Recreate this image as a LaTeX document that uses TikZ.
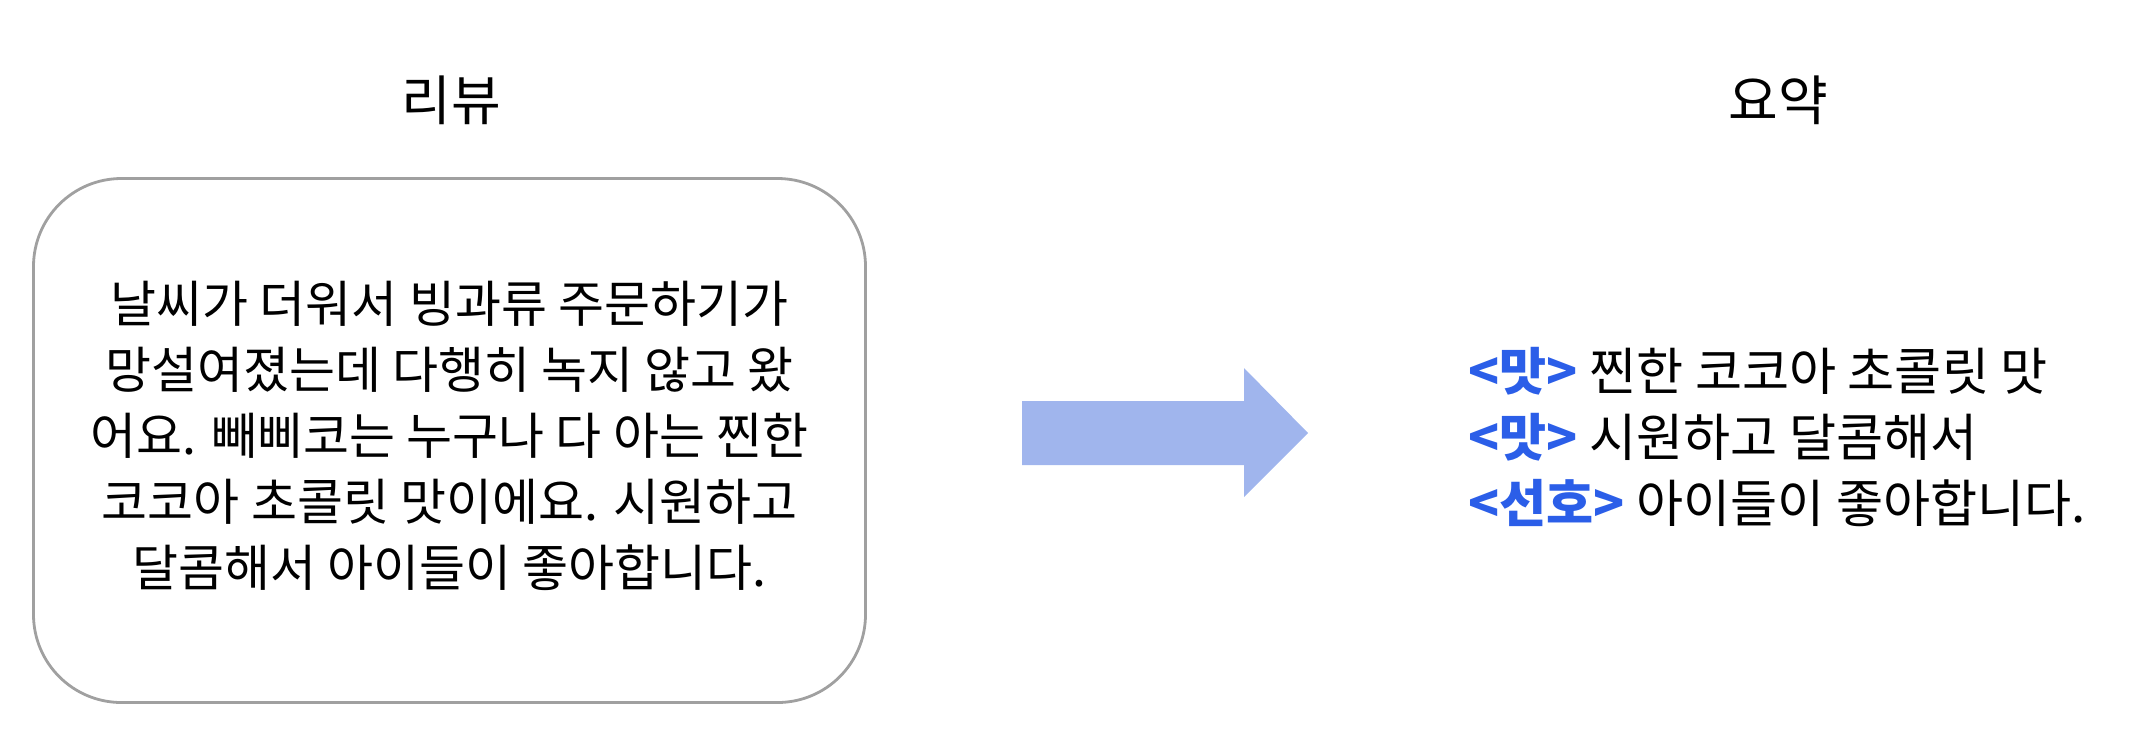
\documentclass[tikz,border=0pt]{standalone}
\usepackage{fontspec}
\setmainfont{Noto Sans CJK KR}
\usepackage{xcolor}
\definecolor{boxgray}{RGB}{160,160,160}
\definecolor{arrowblue}{RGB}{160,181,237}
\definecolor{tagblue}{RGB}{43,94,232}
\newcommand{\tagtxt}[1]{\textcolor{tagblue}{\bfseries <#1>}}

\begin{document}
\begin{tikzpicture}[x=0.5pt,y=-0.5pt,
  title/.style={inner sep=0pt,font=\fontsize{27}{30}\selectfont},
  txt/.style={inner sep=0pt,font=\fontsize{25}{33}\selectfont},
  sumtxt/.style={inner sep=0pt,font=\fontsize{25.6}{33}\selectfont},
  reviewbox/.style={draw=boxgray,line width=1.4pt,rounded corners=44pt,
    minimum width=416pt,minimum height=262pt}]
  \useasboundingbox (0,0) rectangle (2152,730);
  % titles
  \node[title] (revtitle) at (451,100) {리뷰};
  \node[title] (sumtitle) at (1778,100) {요약};
  % review box
  \node[reviewbox] (review) at (449.5,440.5) {};
  \node[txt,align=center] (revtext) at (449.5,436) {날씨가 더워서 빙과류 주문하기가\\
    망설여졌는데 다행히 녹지 않고 왔\\
    어요. 빼삐코는 누구나 다 아는 찐한\\
    코코아 초콜릿 맛이에요. 시원하고\\
    달콤해서 아이들이 좋아합니다.};
  % arrow
  \coordinate (arrtail) at (1022,433);
  \coordinate (arrtip) at (1308,433);
  \fill[arrowblue] (arrtail) ++(0,-32) -- (1244,401) -- (1244,368) -- (arrtip)
    -- (1244,497) -- (1244,465) -- (1022,465) -- cycle;
  % summary
  \node[sumtxt,align=left,anchor=west] (summary) at (1468,437) {\tagtxt{맛} 찐한 코코아 초콜릿 맛\\
    \tagtxt{맛} 시원하고 달콤해서\\
    \tagtxt{선호} 아이들이 좋아합니다.};
\end{tikzpicture}
\end{document}
